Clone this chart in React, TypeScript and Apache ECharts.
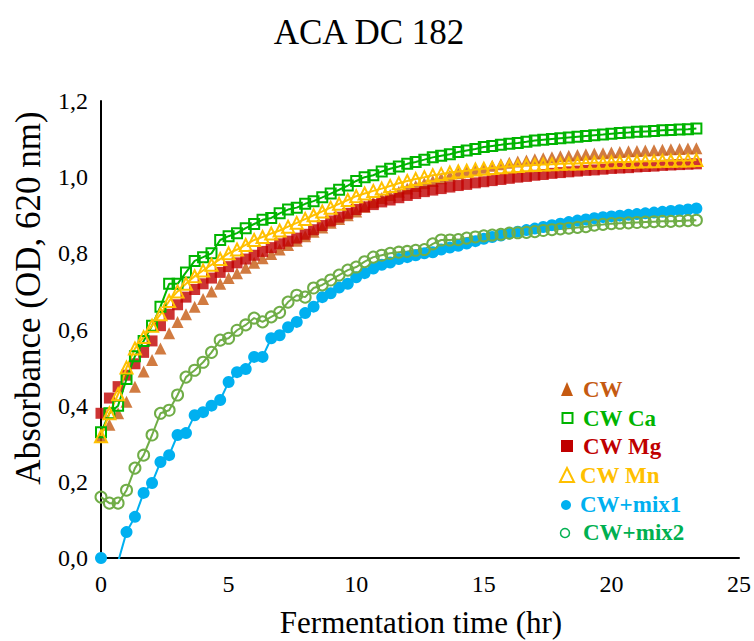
import React, { useEffect, useRef } from 'react';
import * as echarts from 'echarts';

// Fermentation time (hr), every 20 min
const timeHr = [
  0, 0.33, 0.67, 1, 1.33, 1.67, 2, 2.33, 2.67, 3, 3.33, 3.67, 4, 4.33, 4.67, 5, 5.33, 5.67,
  6, 6.33, 6.67, 7, 7.33, 7.67, 8, 8.33, 8.67, 9, 9.33, 9.67, 10, 10.33, 10.67, 11, 11.33, 11.67,
  12, 12.33, 12.67, 13, 13.33, 13.67, 14, 14.33, 14.67, 15, 15.33, 15.67, 16, 16.33, 16.67,
  17, 17.33, 17.67, 18, 18.33, 18.67, 19, 19.33, 19.67, 20, 20.33, 20.67, 21, 21.33, 21.67,
  22, 22.33, 22.67, 23, 23.33,
];

const cw = [
  0.32, 0.35, 0.38, 0.41, 0.45, 0.49, 0.52, 0.55, 0.59, 0.62, 0.64, 0.66, 0.68, 0.70, 0.72, 0.735,
  0.748, 0.762, 0.775, 0.787, 0.798, 0.81, 0.822, 0.833, 0.845, 0.857, 0.868, 0.88, 0.89, 0.90,
  0.91, 0.922, 0.934, 0.945, 0.953, 0.962, 0.97, 0.977, 0.984, 0.99, 0.997, 1.004, 1.01, 1.015,
  1.02, 1.025, 1.03, 1.034, 1.038, 1.041, 1.044, 1.047, 1.05, 1.052, 1.055, 1.056, 1.058, 1.06,
  1.062, 1.063, 1.065, 1.066, 1.068, 1.069, 1.07, 1.071, 1.072, 1.073, 1.074, 1.075, 1.076,
];

const cwCa = [
  0.33, 0.38, 0.40, 0.47, 0.53, 0.57, 0.61, 0.66, 0.72, 0.72, 0.75, 0.78, 0.79, 0.80, 0.835, 0.845,
  0.853, 0.866, 0.877, 0.888, 0.893, 0.905, 0.915, 0.92, 0.93, 0.937, 0.947, 0.957, 0.967, 0.978,
  0.99, 1.0, 1.005, 1.015, 1.022, 1.028, 1.035, 1.04, 1.046, 1.052, 1.056, 1.06, 1.066, 1.07,
  1.074, 1.079, 1.082, 1.085, 1.088, 1.09, 1.093, 1.096, 1.098, 1.1, 1.102, 1.104, 1.106, 1.108,
  1.11, 1.112, 1.114, 1.116, 1.117, 1.119, 1.12, 1.121, 1.123, 1.124, 1.125, 1.126, 1.128,
];

const cwMg = [
  0.38, 0.42, 0.45, 0.48, 0.51, 0.54, 0.57, 0.61, 0.64, 0.665, 0.685, 0.705, 0.72, 0.735, 0.75,
  0.765, 0.775, 0.785, 0.795, 0.805, 0.815, 0.825, 0.832, 0.84, 0.85, 0.862, 0.873, 0.885, 0.895,
  0.905, 0.915, 0.922, 0.928, 0.935, 0.94, 0.946, 0.952, 0.957, 0.962, 0.966, 0.97, 0.974, 0.978,
  0.981, 0.985, 0.988, 0.991, 0.994, 0.997, 1.0, 1.002, 1.005, 1.007, 1.01, 1.012, 1.014, 1.016,
  1.018, 1.019, 1.021, 1.023, 1.024, 1.025, 1.027, 1.028, 1.029, 1.031, 1.032, 1.033, 1.034, 1.035,
];

const cwMn = [
  0.32, 0.38, 0.43, 0.50, 0.55, 0.58, 0.61, 0.64, 0.675, 0.70, 0.72, 0.74, 0.755, 0.77, 0.785,
  0.80, 0.81, 0.822, 0.835, 0.843, 0.852, 0.86, 0.87, 0.88, 0.89, 0.90, 0.91, 0.92, 0.93, 0.94,
  0.95, 0.957, 0.964, 0.97, 0.977, 0.984, 0.99, 0.995, 1.0, 1.005, 1.008, 1.012, 1.015, 1.017,
  1.02, 1.022, 1.024, 1.026, 1.028, 1.029, 1.031, 1.032, 1.033, 1.034, 1.035, 1.036, 1.036, 1.037,
  1.038, 1.038, 1.039, 1.04, 1.04, 1.041, 1.042, 1.042, 1.043, 1.043, 1.044, 1.044, 1.045,
];

const cwMix1 = [
  0, -0.04, -0.01, 0.068, 0.108, 0.171, 0.197, 0.252, 0.27, 0.323, 0.328, 0.375, 0.383, 0.40,
  0.415, 0.462, 0.488, 0.496, 0.528, 0.528, 0.577, 0.585, 0.606, 0.62, 0.643, 0.66, 0.685, 0.695,
  0.71, 0.72, 0.737, 0.748, 0.76, 0.77, 0.776, 0.785, 0.79, 0.795, 0.80, 0.803, 0.81, 0.815, 0.82,
  0.826, 0.832, 0.838, 0.843, 0.847, 0.852, 0.857, 0.861, 0.865, 0.869, 0.874, 0.878, 0.882,
  0.886, 0.889, 0.892, 0.895, 0.897, 0.899, 0.901, 0.903, 0.905, 0.907, 0.909, 0.911, 0.913,
  0.915, 0.918,
];

const cwMix2 = [
  0.16, 0.144, 0.144, 0.178, 0.236, 0.27, 0.323, 0.38, 0.388, 0.428, 0.475, 0.493, 0.514, 0.54,
  0.572, 0.577, 0.598, 0.612, 0.63, 0.62, 0.633, 0.645, 0.672, 0.69, 0.685, 0.709, 0.717, 0.73,
  0.743, 0.756, 0.764, 0.778, 0.79, 0.795, 0.80, 0.803, 0.805, 0.808, 0.81, 0.825, 0.835, 0.835,
  0.836, 0.84, 0.843, 0.846, 0.848, 0.85, 0.853, 0.854, 0.855, 0.857, 0.86, 0.862, 0.864, 0.866,
  0.868, 0.87, 0.874, 0.876, 0.878, 0.879, 0.88, 0.881, 0.882, 0.883, 0.884, 0.884, 0.885, 0.886,
  0.887,
];

const seriesNames = ['CW', 'CW Ca', 'CW Mg', 'CW Mn', 'CW+mix1', 'CW+mix2'];
const xTicks = [0, 5, 10, 15, 20, 25];

const FONT = '"Liberation Serif", "Times New Roman", serif';
const C_CW = '#C55A11';
const C_CA = '#00B400';
const C_MG = '#C00000';
const C_MN = '#FFC000';
const C_MIX1 = '#00B0F0';
const C_MIX2 = '#70AD47';
const C_MIX2_TEXT = '#00B050';

export default function App() {
  const ref = useRef<HTMLDivElement>(null);

  useEffect(() => {
    document.body.style.margin = '0';
    const chart = echarts.init(ref.current as HTMLDivElement, null, { renderer: 'svg' });
    const pair = (ys: number[]) => timeHr.map((t, i) => [t, ys[i]]);
    const hollow = (c: string) => ({ color: 'rgba(0,0,0,0)', borderColor: c, borderWidth: 2 });

    const legendRows = [
      { name: seriesNames[0], y: 389, color: C_CW, tx: 583 },
      { name: seriesNames[1], y: 418, color: C_CA, tx: 583 },
      { name: seriesNames[2], y: 446, color: C_MG, tx: 583 },
      { name: seriesNames[3], y: 475, color: C_MN, tx: 580 },
      { name: seriesNames[4], y: 504, color: C_MIX1, tx: 580 },
      { name: seriesNames[5], y: 532, color: C_MIX2_TEXT, tx: 583 },
    ];

    const txt = (x: number, y: number, text: string, font: string, fill: string, align = 'left', extra: any = {}) => ({
      type: 'text',
      x,
      y,
      ...extra,
      style: {
        text,
        font,
        fill,
        align,
        verticalAlign: 'middle',
        textAlign: align,
        textVerticalAlign: 'middle',
      },
    });

    const graphic: any[] = [
      txt(369, 32, 'ACA DC 182', `normal 35px ${FONT}`, '#000', 'center'),
      txt(421, 622, 'Fermentation time (hr)', `normal 31px ${FONT}`, '#000', 'center'),
      txt(28, 298, 'Absorbance (OD, 620 nm)', `normal 35px ${FONT}`, '#000', 'center', { rotation: Math.PI / 2 }),
      // legend icons
      { type: 'polygon', shape: { points: [[561, 396], [567, 382], [573, 396]] }, style: { fill: C_CW } },
      { type: 'rect', shape: { x: 562.5, y: 413, width: 10, height: 10 }, style: { fill: 'none', stroke: C_CA, lineWidth: 2 } },
      { type: 'rect', shape: { x: 561, y: 440, width: 12, height: 12 }, style: { fill: C_MG } },
      { type: 'polygon', shape: { points: [[560, 482], [567, 468], [574, 482]] }, style: { fill: 'none', stroke: C_MN, lineWidth: 2 } },
      { type: 'circle', shape: { cx: 566, cy: 505, r: 5 }, style: { fill: C_MIX1 } },
      { type: 'circle', shape: { cx: 565, cy: 533, r: 4.5 }, style: { fill: 'none', stroke: C_MIX2_TEXT, lineWidth: 1.5 } },
      ...legendRows.map((r) => txt(r.tx, r.y, r.name, `bold 23px ${FONT}`, r.color)),
    ];

    chart.setOption({
      animation: false,
      backgroundColor: '#fff',
      grid: { left: 101, right: 14, top: 101, bottom: 83, containLabel: false },
      xAxis: {
        type: 'value',
        min: xTicks[0],
        max: xTicks[xTicks.length - 1],
        interval: 5,
        axisLine: { show: true, onZero: false, lineStyle: { color: '#000', width: 2 } },
        axisTick: { show: false },
        splitLine: { show: false },
        axisLabel: { fontFamily: FONT, fontSize: 24, color: '#000', margin: 14 },
      },
      yAxis: {
        type: 'value',
        min: 0,
        max: 1.2,
        interval: 0.2,
        axisLine: { show: true, onZero: false, lineStyle: { color: '#000', width: 2 } },
        axisTick: { show: false },
        splitLine: { show: false },
        axisLabel: {
          fontFamily: FONT,
          fontSize: 24,
          color: '#000',
          margin: 13,
          formatter: (v: number) => v.toFixed(1).replace('.', ','),
        },
      },
      series: [
        {
          name: seriesNames[0],
          type: 'scatter',
          data: pair(cw),
          symbol: 'triangle',
          symbolSize: 12,
          itemStyle: { color: C_CW },
        },
        {
          name: seriesNames[1],
          type: 'line',
          data: pair(cwCa),
          symbol: 'rect',
          symbolSize: 10,
          itemStyle: hollow(C_CA),
          lineStyle: { color: C_CA, width: 2 },
        },
        {
          name: seriesNames[2],
          type: 'scatter',
          data: pair(cwMg),
          symbol: 'rect',
          symbolSize: 11,
          itemStyle: { color: C_MG },
        },
        {
          name: seriesNames[3],
          type: 'line',
          data: pair(cwMn),
          symbol: 'triangle',
          symbolSize: 12,
          itemStyle: hollow(C_MN),
          lineStyle: { color: C_MN, width: 2 },
        },
        {
          name: seriesNames[4],
          type: 'line',
          data: pair(cwMix1),
          symbol: 'circle',
          symbolSize: 12,
          clip: true,
          itemStyle: { color: C_MIX1 },
          lineStyle: { color: C_MIX1, width: 2 },
        },
        {
          name: seriesNames[5],
          type: 'line',
          data: pair(cwMix2),
          symbol: 'circle',
          symbolSize: 11,
          itemStyle: hollow(C_MIX2),
          lineStyle: { color: C_MIX2, width: 2 },
        },
      ],
      graphic,
    });

    return () => chart.dispose();
  }, []);

  return <div ref={ref} style={{ width: 754, height: 641 }} />;
}
